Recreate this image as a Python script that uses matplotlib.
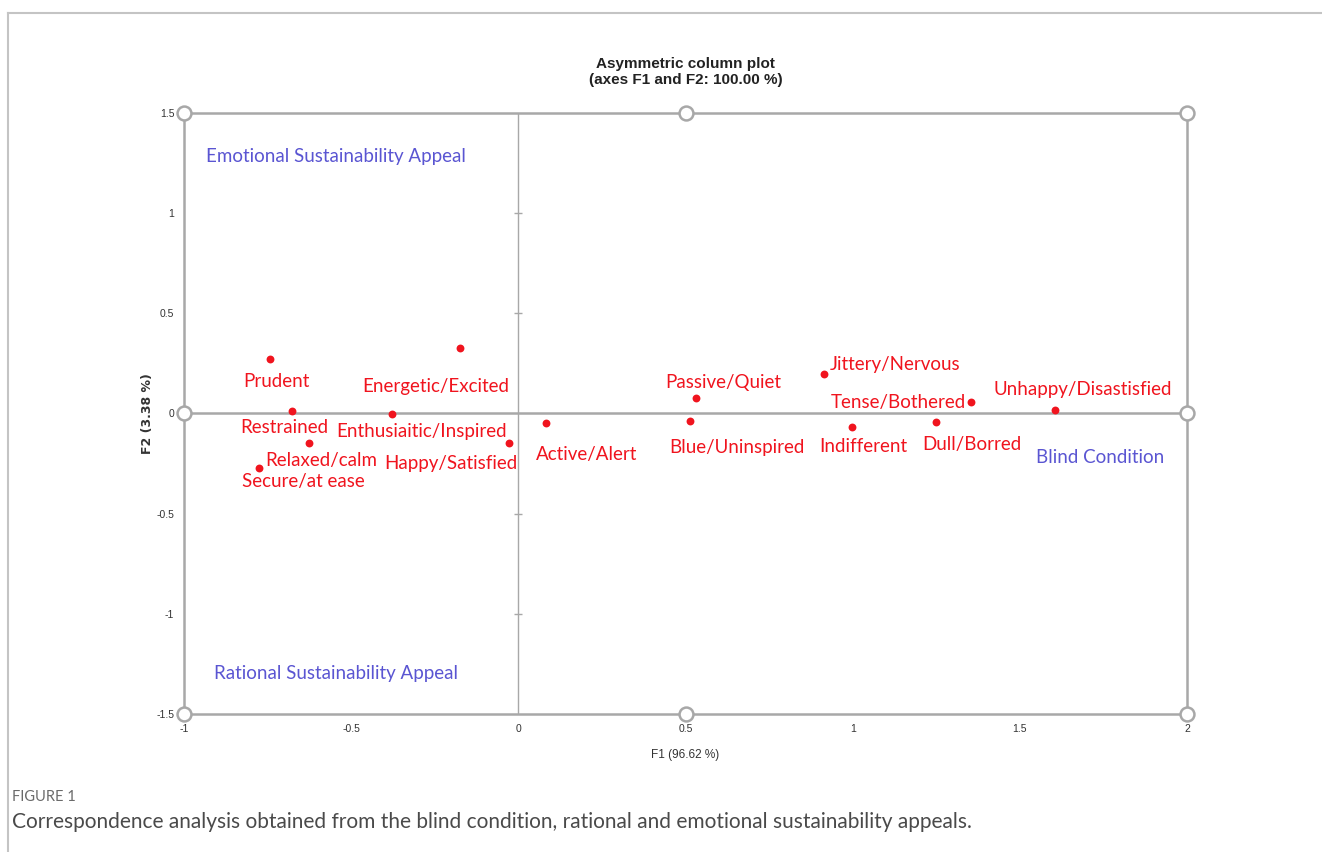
import matplotlib.pyplot as plt
from matplotlib.lines import Line2D

# row points (emotions), F1 / F2 coordinates
emotions = ["Prudent", "Energetic/Excited", "Restrained", "Enthusiaitic/Inspired",
            "Relaxed/calm", "Secure/at ease", "Happy/Satisfied", "Active/Alert",
            "Passive/Quiet", "Blue/Uninspired", "Jittery/Nervous", "Indifferent",
            "Dull/Borred", "Tense/Bothered", "Unhappy/Disastisfied"]
f1 = [-0.743, -0.175, -0.678, -0.379, -0.627, -0.776, -0.028, 0.082,
      0.531, 0.513, 0.914, 0.997, 1.249, 1.354, 1.605]
f2 = [0.272, 0.327, 0.012, -0.002, -0.147, -0.272, -0.147, -0.047,
      0.077, -0.037, 0.197, -0.067, -0.042, 0.057, 0.017]

# column labels (conditions)
conditions = ["Emotional Sustainability Appeal", "Rational Sustainability Appeal", "Blind Condition"]
cond_x = [-0.935, -0.91, 1.547]
cond_y = [1.285, -1.30, -0.22]

xticks = [-1, -0.5, 0, 0.5, 1, 1.5, 2]
xticklabels = ["-1", "-0.5", "0", "0.5", "1", "1.5", "2"]
yticks = [-1.5, -1, -0.5, 0, 0.5, 1, 1.5]
yticklabels = ["-1.5", "-1", "-0.5", "0", "0.5", "1", "1.5"]

# label offsets in points (left edge, vertical centre) relative to each point
offsets = [(-19, -16), (-70, -28), (-37, -12), (-40, -13), (-31, -13), (-12, -10),
           (-90, -15), (-7, -23), (-22, 11), (-15, -19), (4, 7), (-23, -14),
           (-10, -16), (-101, 0), (-44, 15)]

red = "#f0141e"
blue = "#5a55d2"
grey = "#a8a8a8"

plt.rcParams['font.family'] = ['Liberation Sans Narrow', 'Liberation Sans', 'DejaVu Sans']

fig = plt.figure(figsize=(13.22, 8.52), dpi=100)
ax = fig.add_axes([0.1392, 0.162, 0.7587, 0.7054])
ax.set_xlim(-1, 2)
ax.set_ylim(-1.5, 1.5)

for s in ax.spines.values():
    s.set_color(grey)
    s.set_linewidth(1.8)

ax.axhline(0, color=grey, lw=1.8, zorder=1)
ax.axvline(0, color=grey, lw=1.0, zorder=1)
# small ticks on the centre line
ax.plot([0] * 4, [1, 0.5, -0.5, -1], ls="none", marker="_", ms=6, mew=1, color=grey, zorder=1)

ax.set_xticks(xticks)
ax.set_xticklabels(xticklabels)
ax.set_yticks(yticks)
ax.set_yticklabels(yticklabels)
ax.tick_params(length=0, labelsize=7.5, colors="#333333", pad=7)

# open circles on the frame
cx = [-1, 0.5, 2, -1, 2, -1, 0.5, 2]
cy = [1.5, 1.5, 1.5, 0, 0, -1.5, -1.5, -1.5]
ax.plot(cx, cy, ls="none", marker="o", ms=10, mfc="white", mec=grey, mew=1.8,
        clip_on=False, zorder=5)

ax.scatter(f1, f2, s=32, color=red, zorder=4, linewidths=0)
for name, x, y, off in zip(emotions, f1, f2, offsets):
    ax.annotate(name, (x, y), xytext=off, textcoords="offset points",
                ha="left", va="center", color=red, fontsize=13.5, family="Lato")

for name, x, y in zip(conditions, cond_x, cond_y):
    ax.text(x, y, name, color=blue, fontsize=13.5, family="Lato", ha="left", va="center")

ax.set_xlabel("F1 (96.62 %)", fontsize=8.5, color="#333333", labelpad=11)
ax.set_ylabel("F2 (3.38 %)", fontsize=9, color="#333333", fontweight="bold",
              family="DejaVu Sans", labelpad=2)
ax.set_title("Asymmetric column plot\n(axes F1 and F2: 100.00 %)", fontsize=11,
             fontweight="bold", color="#222222", pad=21, linespacing=1.2)

# card border and caption
fig.add_artist(Line2D([8 / 1322, 1], [1 - 13 / 852, 1 - 13 / 852], color="#c4c4c4", lw=1.5))
fig.add_artist(Line2D([8 / 1322, 8 / 1322], [0, 1 - 13 / 852], color="#c4c4c4", lw=1.5))
fig.text(12 / 1322, 1 - 797 / 852, "FIGURE 1", fontsize=10.5, color="#6a6a6a", family="Lato",
         va="center")
fig.text(12 / 1322, 1 - 822 / 852,
         "Correspondence analysis obtained from the blind condition, rational and emotional sustainability appeals.",
         fontsize=15, color="#4a4a4a", family="Lato", va="center")

fig.savefig("out.png", dpi=100)
